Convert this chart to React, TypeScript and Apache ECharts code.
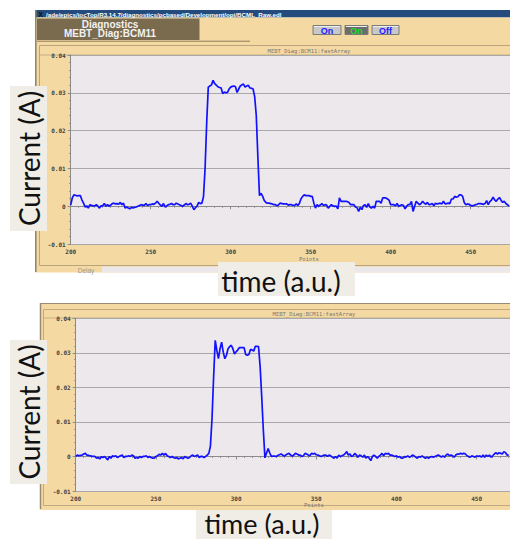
import React, { useEffect, useRef } from "react";
import * as echarts from "echarts";

// ---------- data (current in mA, one value per point starting at x = 200) ----------
const X_START = 200;
const topCurrent_mA = [
  0.3, 2.2, 3.0, 2.9, 2.7, 2.8, 2.8, 1.7, 0.8, -0.2,
  0.1, -0.5, 0.4, 0.2, 0.1, 0.1, 0.4, 0.0, -0.5, 0.1,
  0.1, 0.7, 0.0, 0.4, 0.0, 0.3, 0.7, 0.8, 0.6, 0.7,
  0.5, 1.0, 0.4, 0.8, -0.5, -0.2, -0.5, -0.7, -0.3, -0.5,
  -0.3, -0.2, 0.0, 0.2, 0.4, 0.3, 0.2, 0.7, 0.2, 0.4,
  0.4, 0.6, 0.5, 0.8, 1.3, 0.8, 0.3, 0.0, 0.7, -0.2,
  0.1, 0.4, 0.5, 0.7, 0.4, 0.4, 0.8, 0.6, 0.4, 0.2,
  0.0, 0.3, 0.7, 0.4, 0.5, 0.8, 0.0, -0.9, -0.4, 0.0,
  1.0, 0.7, 0.8, 2.5, 10.0, 22.0, 31.5, 31.8, 32.1, 33.3,
  32.4, 32.0, 31.6, 31.4, 31.3, 29.8, 30.2, 30.0, 30.1, 31.0,
  31.5, 31.7, 31.8, 31.6, 30.1, 31.0, 31.8, 32.1, 32.3, 31.5,
  31.8, 32.0, 31.3, 31.2, 31.0, 29.0, 24.0, 13.0, 2.8, 3.4,
  2.6, 1.5, 1.0, 0.8, 0.8, 0.7, 0.6, 0.4, 0.4, 0.1,
  0.4, 0.8, 0.7, 0.6, 0.6, 0.6, 0.3, 0.4, 0.4, 0.2,
  0.2, 0.6, 0.2, 0.8, 2.0, 2.6, 3.0, 2.8, 2.8, 2.8,
  2.6, 2.6, 0.8, -0.5, 0.4, 0.0, 0.3, 0.7, 0.2, 0.4,
  0.3, -0.5, 0.0, 0.4, 0.0, 0.0, 0.0, -0.7, 2.2, 1.3,
  1.3, 1.3, 1.3, 1.2, 1.0, 0.4, 0.4, 0.4, -0.2, -0.4,
  -1.4, -0.3, -0.9, 0.2, 0.4, -0.3, 0.7, -0.2, -0.5, 0.0,
  -0.5, 1.3, 1.3, 1.3, 0.8, 2.2, 2.2, 2.2, 1.9, 1.6,
  0.4, 0.4, 0.4, 0.1, 0.7, 0.0, 0.2, 0.4, 0.2, -0.7,
  0.0, 0.4, 0.4, 1.3, -1.4, 0.0, 1.3, 0.8, 0.4, 0.7,
  1.3, 0.8, 0.5, 1.0, 0.4, 0.5, 0.7, 0.1, 0.8, 0.6,
  0.7, 0.8, 0.6, 1.3, 0.6, 0.7, 0.8, 0.7, 1.9, 1.9,
  2.6, 2.4, 2.5, 3.0, 3.0, 2.6, 1.0, 0.4, 0.6, 0.5,
  0.2, 0.1, 0.2, 0.4, 0.5, 0.7, 0.7, 0.6, 0.5, 0.7,
  1.5, 0.4, 1.2, 1.6, 2.4, 1.7, 1.3, 1.9, 2.3, 1.6,
  1.0, 1.3, 0.7, 0.4, 0.0,
];
const bottomCurrent_mA = [
  0.0, 0.4, 0.2, 0.3, 0.4, 0.7, 0.9, 0.4, 0.3, 0.2,
  0.1, 0.0, 0.0, -0.5, -0.3, -0.7, -0.1, -0.3, 0.0, -0.5,
  -1.0, 0.0, -0.5, 0.2, 0.0, 0.2, -0.3, 0.0, 0.2, 0.4,
  -0.3, 0.0, 0.0, 0.2, 0.0, 0.4, 0.2, -0.5, -0.3, -0.5,
  0.0, -0.3, 0.0, 0.0, 0.2, -0.3, 0.0, -0.3, -0.5, -0.5,
  0.0, 0.2, 0.6, 0.4, 0.9, 0.4, 0.9, 0.2, 0.0, -0.3,
  0.0, -0.3, -0.5, -0.3, -0.7, -0.5, -0.3, -0.7, 0.0, -0.3,
  -0.5, -0.3, 0.2, 0.4, 0.0, 0.2, 0.4, -0.3, 0.0, 0.0,
  -0.3, 0.0, 0.4, 0.9, 3.0, 11.0, 23.0, 33.6, 30.7, 28.3,
  31.2, 33.1, 30.2, 28.3, 29.3, 31.2, 31.8, 32.2, 31.2, 29.7,
  30.3, 30.8, 31.5, 31.5, 31.5, 31.5, 29.5, 29.3, 29.5, 31.0,
  30.8, 30.5, 31.9, 31.9, 31.8, 26.0, 17.2, 7.6, -0.4, 1.0,
  2.3, 1.0, 0.0, 0.1, 0.1, 0.0, 0.3, 0.5, 0.7, 0.4,
  0.1, 0.4, 0.7, 0.9, 0.4, 0.1, 0.4, 0.9, 0.7, 0.4,
  0.4, 0.0, 0.2, 0.9, 0.7, 0.4, 0.2, 0.9, 0.7, 0.9,
  0.5, 0.4, 0.2, 0.0, 0.2, 0.4, 0.4, 0.0, 0.4, 0.2,
  -0.2, -0.5, 0.0, -0.5, 0.4, 0.0, 0.2, 0.4, 0.8, 1.4,
  0.4, 0.7, 0.0, 0.2, 0.9, 0.4, -0.2, 0.4, 0.2, -0.2,
  0.4, -0.5, 0.0, -0.5, -1.2, 0.0, 0.4, 0.0, -0.5, 0.0,
  0.4, 0.9, 0.2, 0.9, 0.7, 0.9, 0.4, 0.4, 0.2, 0.0,
  0.2, -0.2, 0.0, -0.5, -0.5, 0.0, -0.2, 0.2, -0.2, 0.0,
  0.4, 0.2, -0.2, -0.5, 0.0, -0.2, 0.2, -0.2, -0.5, -0.2,
  -0.5, -0.2, 0.0, -0.2, 0.0, 0.2, 0.4, 0.2, -0.2, 0.2,
  -0.2, 0.4, 0.7, 0.2, 0.4, 0.2, -0.2, 0.4, 0.7, 0.7,
  0.9, 0.7, 0.9, 0.7, 0.2, 0.0, -0.2, 0.2, 0.0, -0.2,
  0.2, 0.0, 0.2, -0.2, 0.4, -0.2, 0.4, 0.0, 0.4, -0.2,
  0.2, 0.7, 1.1, 0.7, 1.1, 0.9, 0.7, 1.4, 1.1, 0.4,
  0.4,
];
const Y_MIN = -0.01;
const Y_MAX = 0.04;
const Y_STEP = 0.01;
const X_STEP = 50;
const TOP_X_MAX = 474.6;
const BOTTOM_X_MAX = 470.8;

const PV_TITLE = "MEBT_Diag:BCM11:fastArray";
const WINDOW_PATH = "/ade/epics/iocTop/R3.14.7/diagnostics/pcbased/Development/opi/BCML_Raw.edl";
const BIG_Y_LABEL = "Current (A)";
const BIG_X_LABEL = "time (a.u.)";

const BEIGE = "#f5d9a2";
const PLOT_BG = "#ece8ec";
const LABEL_BOX = "#efede6";

const toSeries = (arr: number[]) => arr.map((v, i) => [X_START + i, v / 1000]);

function xAxis(gridIndex: number, max: number) {
  return {
    type: "value",
    gridIndex,
    min: X_START,
    max,
    interval: X_STEP,
    axisLine: { show: true, lineStyle: { color: "#8a8a8a", width: 1 } },
    axisTick: { show: true, length: 3, lineStyle: { color: "#8a8a8a" } },
    minorTick: { show: true, splitNumber: 10, length: 1.5, lineStyle: { color: "#8a8a8a" } },
    axisLabel: {
      fontSize: 6,
      color: "#444",
      fontFamily: "DejaVu Sans Mono",
      fontWeight: "bold",
      margin: 4,
      showMaxLabel: false,
    },
    splitLine: { show: false },
  };
}

function yAxis(gridIndex: number) {
  return {
    type: "value",
    gridIndex,
    min: Y_MIN,
    max: Y_MAX,
    interval: Y_STEP,
    name: BIG_Y_LABEL,
    nameLocation: "middle",
    nameRotate: 90,
    nameGap: 21,
    nameTextStyle: { fontSize: 5, color: "#a09a9a", fontFamily: "DejaVu Sans Mono" },
    axisLine: { show: true, lineStyle: { color: "#8a8a8a", width: 1 } },
    axisTick: { show: true, length: 3, lineStyle: { color: "#8a8a8a" } },
    minorTick: { show: true, splitNumber: 5, length: 1.5, lineStyle: { color: "#8a8a8a" } },
    axisLabel: {
      fontSize: 6,
      color: "#444",
      fontFamily: "DejaVu Sans Mono",
      fontWeight: "bold",
      margin: 5,
    },
    splitLine: { show: true, lineStyle: { color: "#a8a8a8", width: 1 } },
  };
}

const rect = (x: number, y: number, w: number, h: number, fill: string, z = -10, stroke?: string, lw = 1) => ({
  type: "rect",
  z,
  silent: true,
  shape: { x, y, width: w, height: h },
  style: { fill, stroke: stroke || null, lineWidth: lw },
});
const line = (x1: number, y1: number, x2: number, y2: number, stroke: string, lw = 1, z = -9) => ({
  type: "line",
  z,
  silent: true,
  shape: { x1, y1, x2, y2 },
  style: { stroke, lineWidth: lw },
});
const text = (x: number, y: number, t: string, font: string, fill: string, z = -8, rotation = 0, align = "center") => ({
  type: "text",
  z,
  silent: true,
  x,
  y,
  rotation,
  style: { text: t, font, fill, align, verticalAlign: "middle", textAlign: align, textVerticalAlign: "middle" },
});

function button(x: number, w: number, label: string, bg: string, fg: string) {
  return [
    rect(x, 25.5, w, 9, bg, -9, "#7a7a7a", 1),
    line(x + 1, 26.5, x + w - 1, 26.5, "#eeeeee", 1, -8),
    text(x + w / 2, 30.5, label, "bold 9px Liberation Sans", fg, -7),
  ];
}

const graphics: any[] = [
  // ---------- top window ----------
  rect(35, 10, 475, 7.5, "#244b7c"),
  text(40.5, 14, "X", "bold 7px Liberation Sans", "#111", -8),
  text(46, 14, WINDOW_PATH, "bold 6.2px Liberation Sans", "#ffffff", -8, 0, "left"),
  rect(35, 17.5, 475, 255, BEIGE),
  line(35.8, 10, 35.8, 272, "#8a8070", 1.5),
  rect(37, 18.5, 162.5, 21.5, "#7a6a4e", -9),
  text(110, 24.3, "Diagnostics", "bold 10px Liberation Sans", "#f2f2f2", -8),
  text(110, 33.8, "MEBT_Diag:BCM11", "bold 10px Liberation Sans", "#f2f2f2", -8),
  line(37, 41.2, 250, 41.2, "#8b7b5b", 1),
  ...button(313, 28, "On", "#c8c8c8", "#1a1aff"),
  ...button(345, 23, "On", "#6c6c6c", "#20dd20"),
  ...button(372, 27, "Off", "#c8c8c8", "#1a1aff"),
  rect(39.5, 45.5, 475, 220, "none", -9, "#b9a47c", 1),
  line(39.5, 55, 510, 55, "#c4ae84", 1),
  text(309, 51, PV_TITLE, "5.5px DejaVu Sans Mono", "#777", -8),
  text(309, 258.5, "Points", "5.5px DejaVu Sans Mono", "#777", -8),
  rect(102, 266.5, 408, 6, "#ece8ea", -9),
  text(86, 270, "Delay", "6.5px Liberation Sans", "#9a9a9a", -8),

  // ---------- bottom window ----------
  rect(40, 303, 470, 207, BEIGE),
  line(40.5, 303, 40.5, 509, "#9a8c74", 1.5),
  line(40, 303.5, 510, 303.5, "#9a8c74", 1),
  rect(43.5, 309.5, 470, 196, "none", -9, "#c0aa80", 1),
  line(43.5, 318, 510, 318, "#c4ae84", 1),
  text(314, 314.2, PV_TITLE, "5.5px DejaVu Sans Mono", "#777", -8),
  text(314, 505, "Points", "5.5px DejaVu Sans Mono", "#777", -8),

  // ---------- big slide labels ----------
  rect(10, 86, 37, 145, LABEL_BOX, 100),
  text(29, 158.5, BIG_Y_LABEL, "28px Lato", "#111", 101, Math.PI / 2),
  rect(10, 340, 37, 144, LABEL_BOX, 100),
  text(29, 412, BIG_Y_LABEL, "28px Lato", "#111", 101, Math.PI / 2),
  rect(218, 262, 137, 34, LABEL_BOX, 100),
  text(281, 281, BIG_X_LABEL, "28px Lato", "#111", 101),
  rect(196, 510, 136, 29, LABEL_BOX, 100),
  text(262, 523.5, BIG_X_LABEL, "27px Lato", "#111", 101),
];

export default function App() {
  const ref = useRef<HTMLDivElement>(null);
  useEffect(() => {
    const chart = echarts.init(ref.current!, null, { renderer: "svg" });
    chart.setOption({
      animation: false,
      backgroundColor: "#ffffff",
      grid: [
        { left: 70.7, top: 55, width: 439.3, height: 189, show: true, backgroundColor: PLOT_BG, borderWidth: 0 },
        { left: 75.7, top: 318.3, width: 434.3, height: 172.7, show: true, backgroundColor: PLOT_BG, borderWidth: 0 },
      ],
      xAxis: [xAxis(0, TOP_X_MAX), xAxis(1, BOTTOM_X_MAX)],
      yAxis: [yAxis(0), yAxis(1)],
      series: [
        {
          type: "line",
          xAxisIndex: 0,
          yAxisIndex: 0,
          data: toSeries(topCurrent_mA),
          symbol: "none",
          silent: true,
          z: 5,
          lineStyle: { color: "#1212ff", width: 1.7 },
        },
        {
          type: "line",
          xAxisIndex: 1,
          yAxisIndex: 1,
          data: toSeries(bottomCurrent_mA),
          symbol: "none",
          silent: true,
          z: 5,
          lineStyle: { color: "#1212ff", width: 1.7 },
        },
      ],
      graphic: { elements: graphics },
    });
    return () => chart.dispose();
  }, []);
  return (
    <div
      ref={ref}
      style={{ position: "fixed", left: 0, top: 0, width: 510, height: 539, background: "#fff" }}
    />
  );
}
